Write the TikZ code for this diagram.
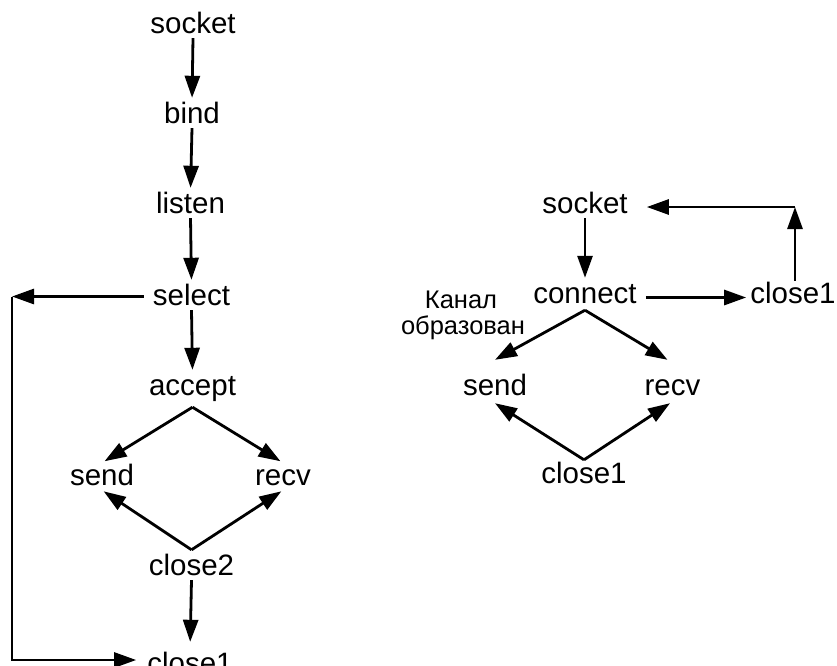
\documentclass[tikz,border=0pt]{standalone}
\usepackage{fontspec}
\setmainfont{Liberation Sans}
\usetikzlibrary{arrows.meta}
\begin{document}
\begin{tikzpicture}[x=1pt,y=-1pt,
  lbl/.style={anchor=base, font=\fontsize{29.5}{34}\selectfont, text height=21pt, text depth=4pt, inner sep=1pt},
  note/.style={anchor=base, font=\fontsize{25.5}{29}\selectfont, inner sep=0pt},
  arr/.style={line width=2.8pt, -{Triangle[length=22pt,width=15pt]}},
]
\useasboundingbox (0,0) rectangle (837,665);
% left (server)
\node[lbl] (sL) at (193,33) {socket};
\node[lbl] (bL) at (192,123) {bind};
\node[lbl] (lL) at (190.5,213) {listen};
\node[lbl] (seL) at (191.5,305) {select};
\node[lbl] (aL) at (192.5,395) {accept};
\node[lbl] (sdL) at (102,485) {send};
\node[lbl] (rvL) at (283,485) {recv};
\node[lbl] (c2L) at (191.5,575) {close2};
\node[lbl] (c1L) at (190,673) {close1};
\coordinate (cL) at (12,296.5);
% right (client)
\node[lbl] (sR) at (585,213) {socket};
\node[lbl] (cR) at (585,303) {connect};
\node[lbl] (c1R) at (793,303) {close1};
\node[lbl] (sdR) at (495,395) {send};
\node[lbl] (rvR) at (672.5,395) {recv};
\node[lbl] (c1Rb) at (584,483) {close1};
\node[note] (k1) at (461,308) {Канал};
\node[note] (k2) at (463,334) {образован};
\coordinate (cR2) at (795,207);
% left arrows
\draw[arr, shorten >=3pt] (sL.south) -- (bL.north);
\draw[arr, shorten >=3pt] (bL.south) -- (lL.north);
\draw[arr, shorten >=3pt] (lL.south) -- (seL.north);
\draw[arr, shorten >=3pt] (seL.south) -- (aL.north);
\draw[arr, shorten <=8pt] (seL.west) -- (cL);
\draw[arr, shorten >=10pt] (cL) |- ([yshift=4.5pt]c1L.west);
\draw[arr, shorten >=3pt] ([yshift=-7pt]aL.south) -- (sdL.north);
\draw[arr, shorten >=3pt] ([yshift=-7pt]aL.south) -- (rvL.north);
\draw[arr, shorten >=2pt] ([yshift=3pt]c2L.north) -- (sdL.south);
\draw[arr, shorten >=2pt] ([yshift=3pt]c2L.north) -- (rvL.south);
\draw[arr, shorten >=9pt] (c2L.south) -- (c1L.north);
% right arrows
\draw[arr, shorten >=3pt] (sR.south) -- (cR.north);
\draw[arr, shorten <=8pt, shorten >=3pt] ([yshift=-3pt]cR.east) -- ([yshift=-3pt]c1R.west);
\draw[arr] (c1R.north -| cR2) -- (cR2);
\draw[arr, shorten >=18pt] (cR2) -- (cR2 -| sR.east);
\draw[arr] ([yshift=-2pt]cR.south) -- ([yshift=13pt]sdR.north);
\draw[arr] ([yshift=-2pt]cR.south) -- ([xshift=-5pt,yshift=13pt]rvR.north);
\draw[arr] ([yshift=1pt]c1Rb.north) -- ([yshift=-3pt]sdR.south);
\draw[arr] ([yshift=1pt]c1Rb.north) -- ([xshift=-2.5pt,yshift=-3pt]rvR.south);
\end{tikzpicture}
\end{document}
